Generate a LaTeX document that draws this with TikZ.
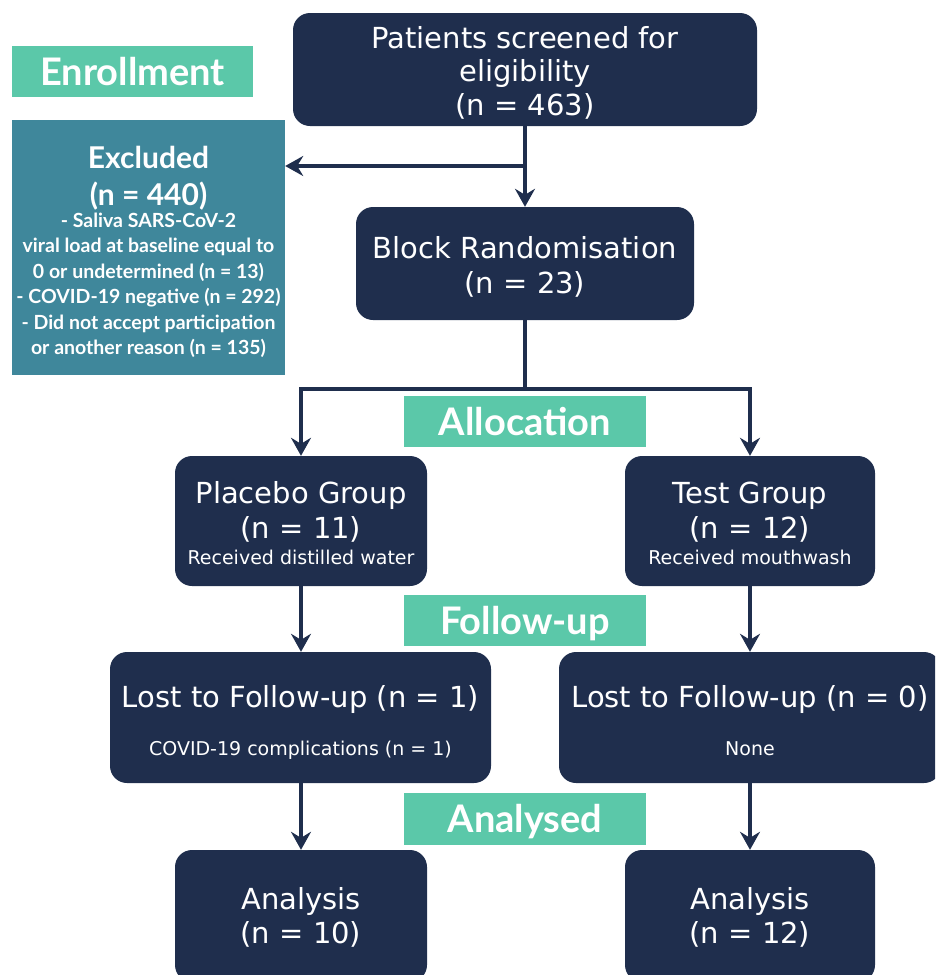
\documentclass[tikz,border=0pt]{standalone}
\usepackage{fontspec}
\setmainfont{DejaVu Sans}
\newfontfamily\labfont{Lato}
\usetikzlibrary{arrows.meta}
\definecolor{navy}{HTML}{1F2E4D}
\definecolor{mint}{HTML}{5BC8A9}
\definecolor{tealbox}{HTML}{3F879B}
\tikzset{
  box/.style={fill=navy, draw=none, rounded corners=17pt, inner sep=0pt},
  txt/.style={text=white, anchor=base, inner sep=0pt, font=\fontsize{29}{34}\selectfont},
  subtxt/.style={text=white, anchor=base, inner sep=0pt, font=\fontsize{19}{23}\selectfont},
  lab/.style={fill=mint, text=white, inner sep=0pt, minimum width=242pt, minimum height=51pt,
    font=\labfont\bfseries\fontsize{38}{40}\selectfont, text height=27pt, text depth=0pt},
  exbig/.style={text=white, anchor=base, inner sep=0pt, font=\labfont\bfseries\fontsize{30}{34}\selectfont},
  exsmall/.style={text=white, anchor=base, inner sep=0pt, font=\labfont\bfseries\fontsize{19.5}{22}\selectfont},
  arr/.style={draw=navy, line width=3.5pt, -{Stealth[length=18pt,width=20pt,inset=6pt]}},
  conn/.style={draw=navy, line width=3.5pt}
}
\begin{document}
\begin{tikzpicture}[x=1pt,y=-1pt]
\useasboundingbox (0,0) rectangle (935,975);
\clip (0,0) rectangle (935,975);

% boxes
\node[box, minimum width=464pt, minimum height=113pt] (top) at (525,69.5) {};
\node[box, minimum width=338pt, minimum height=113pt] (br) at (525,263.5) {};
\node[fill=tealbox, inner sep=0pt, minimum width=273pt, minimum height=255pt] (excl) at (148.5,247.5) {};
\node[box, minimum width=252pt, minimum height=130pt] (plac) at (301,521) {};
\node[box, minimum width=250pt, minimum height=130pt] (test) at (750,521) {};
\node[box, minimum width=381pt, minimum height=131pt] (lostL) at (300.5,717.5) {};
\node[box, minimum width=382pt, minimum height=131pt] (lostR) at (750,717.5) {};
\node[box, minimum width=252pt, minimum height=132pt] (anL) at (301,916) {};
\node[box, minimum width=250pt, minimum height=132pt] (anR) at (750,916) {};

% stage labels
\node[lab, minimum width=241pt] (enr) at (132.5,71.5) {Enrollment};
\node[lab] (alloc) at (525,421.5) {Allocation};
\node[lab] (fol) at (525,620.5) {Follow-up};
\node[lab, minimum height=52pt] (ana) at (525,819) {Analysed};

% texts
\node[txt] (t1) at (525,48) {Patients screened for};
\node[txt] (t2) at (525,81.5) {eligibility};
\node[txt] (t3) at (525,115) {(n = 463)};

\node[txt] (b1) at (525,258) {Block Randomisation};
\node[txt] (b2) at (525,293) {(n = 23)};

\node[exbig] (e1) at (148.5,168) {Excluded};
\node[exbig] (e2) at (148.5,205) {(n = 440)};
\node[exsmall] (e3) at (148.5,227) {- Saliva SARS-CoV-2};
\node[exsmall] (e4) at (148.5,252.5) {viral load at baseline equal to};
\node[exsmall] (e5) at (148.5,278) {0 or undetermined (n = 13)};
\node[exsmall] (e6) at (148.5,303.5) {- COVID-19 negative (n = 292)};
\node[exsmall] (e7) at (148.5,329) {- Did not accept participation};
\node[exsmall] (e8) at (148.5,354.5) {or another reason (n = 135)};

\node[txt] (p1) at (301,503) {Placebo Group};
\node[txt] (p2) at (301,538) {(n = 11)};
\node[subtxt] (p3) at (301,564) {Received distilled water};

\node[txt] (g1) at (750,503) {Test Group};
\node[txt] (g2) at (750,538) {(n = 12)};
\node[subtxt] (g3) at (750,564) {Received mouthwash};

\node[txt] (l1) at (300.5,707) {Lost to Follow-up (n = 1)};
\node[subtxt] (l2) at (300.5,755) {COVID-19 complications (n = 1)};

\node[txt] (r1) at (750,707) {Lost to Follow-up (n = 0)};
\node[subtxt] (r2) at (750,755) {None};

\node[txt] (a1) at (301,909) {Analysis};
\node[txt] (a2) at (301,943) {(n = 10)};
\node[txt] (c1) at (750,909) {Analysis};
\node[txt] (c2) at (750,943) {(n = 12)};

% connectors
\coordinate (split1) at (525,166);
\coordinate (split2) at (525,389);
\draw[arr] (top.south) -- (br.north);
\draw[arr] (split1) -- (split1 -| excl.east);
\draw[conn] (br.south) -- (split2);
\draw[arr] (split2) -| (plac.north);
\draw[arr] (split2) -| (test.north);
\draw[arr] (plac.south) -- (plac.south |- lostL.north);
\draw[arr] (test.south) -- (test.south |- lostR.north);
\draw[arr] (plac.south |- lostL.south) -- (anL.north);
\draw[arr] (lostR.south) -- (anR.north);
\end{tikzpicture}
\end{document}
